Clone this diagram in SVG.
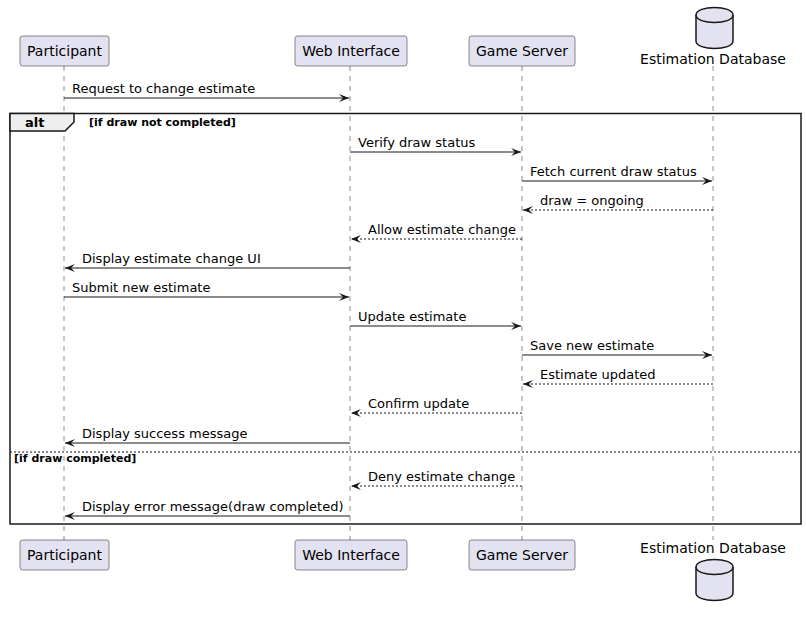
<svg xmlns="http://www.w3.org/2000/svg" width="806" height="618" viewBox="0 0 806 618">
<defs>
<style>
.p{fill:#E2E2F0;stroke:#181818;stroke-width:0.5}
.pt{font-family:"DejaVu Sans",sans-serif;font-size:14px;fill:#000;text-anchor:middle}
.ll{stroke:#181818;stroke-width:0.5;stroke-dasharray:5,5}
.m{stroke:#181818;stroke-width:1;fill:none}
.d{stroke-dasharray:2,2}
.mt{font-family:"DejaVu Sans",sans-serif;font-size:13px;fill:#000}
.g{font-family:"DejaVu Sans",sans-serif;font-size:11px;font-weight:bold;fill:#000}
</style>
<marker id="ah" viewBox="0 0 10 8" refX="10" refY="4" markerWidth="10" markerHeight="8" markerUnits="userSpaceOnUse" orient="auto">
<polygon points="0,0 10,4 0,8 4,4" fill="#181818"/>
</marker>
</defs>
<rect width="806" height="618" fill="#FFFFFF"/>
<g id="lifelines">
<line class="ll" x1="64" y1="66" x2="64" y2="540"/>
<line class="ll" x1="350" y1="66" x2="350" y2="540"/>
<line class="ll" x1="522" y1="66" x2="522" y2="540"/>
<line class="ll" x1="713" y1="66" x2="713" y2="540"/>
</g>
<g id="alt-frame">
<rect x="10" y="113.5" width="791" height="410.5" fill="none" stroke="#181818" stroke-width="1.5"/>
<polygon points="10,113.5 74,113.5 74,122 65,131 10,131" fill="#EEEEEE" stroke="#181818" stroke-width="1.5"/>
<text x="25" y="127" font-family="DejaVu Sans,sans-serif" font-size="13" font-weight="bold">alt</text>
<text class="g" x="89" y="126">[if draw not completed]</text>
<line x1="10" y1="452" x2="801" y2="452" stroke="#181818" stroke-width="1" stroke-dasharray="2,2"/>
<text class="g" x="14" y="462">[if draw completed]</text>
</g>
<g id="participant-top"><rect class="p" x="20" y="36" width="89" height="30" rx="2.5"/><text class="pt" x="64.5" y="56">Participant</text></g>
<g id="web-top"><rect class="p" x="295" y="36" width="112" height="30" rx="2.5"/><text class="pt" x="351" y="56">Web Interface</text></g>
<g id="server-top"><rect class="p" x="469" y="36" width="106" height="30" rx="2.5"/><text class="pt" x="522" y="56">Game Server</text></g>
<g id="db-top">
<path d="M696,15 C696,5 733,5 733,15 L733,41 C733,51 696,51 696,41 Z" fill="#E2E2F0" stroke="#181818" stroke-width="1.5"/>
<path d="M696,15 C696,25 733,25 733,15" fill="none" stroke="#181818" stroke-width="1.5"/>
<text class="pt" x="713" y="64">Estimation Database</text>
</g>
<g id="participant-bottom"><rect class="p" x="20" y="540" width="89" height="30" rx="2.5"/><text class="pt" x="64.5" y="560">Participant</text></g>
<g id="web-bottom"><rect class="p" x="295" y="540" width="112" height="30" rx="2.5"/><text class="pt" x="351" y="560">Web Interface</text></g>
<g id="server-bottom"><rect class="p" x="469" y="540" width="106" height="30" rx="2.5"/><text class="pt" x="522" y="560">Game Server</text></g>
<g id="db-bottom">
<text class="pt" x="713" y="553">Estimation Database</text>
<path d="M696,567 C696,557 733,557 733,567 L733,593 C733,603 696,603 696,593 Z" fill="#E2E2F0" stroke="#181818" stroke-width="1.5"/>
<path d="M696,567 C696,577 733,577 733,567" fill="none" stroke="#181818" stroke-width="1.5"/>
</g>
<g id="connectors">
<line class="m" x1="64" y1="98" x2="349" y2="98" marker-end="url(#ah)"/>
<text class="mt" x="72" y="93">Request to change estimate</text>
<line class="m" x1="350" y1="152" x2="521" y2="152" marker-end="url(#ah)"/>
<text class="mt" x="358" y="147">Verify draw status</text>
<line class="m" x1="522" y1="181" x2="712" y2="181" marker-end="url(#ah)"/>
<text class="mt" x="530" y="176">Fetch current draw status</text>
<line class="m d" x1="713" y1="210" x2="523" y2="210" marker-end="url(#ah)"/>
<text class="mt" x="540" y="205">draw = ongoing</text>
<line class="m d" x1="522" y1="239" x2="351" y2="239" marker-end="url(#ah)"/>
<text class="mt" x="368" y="234">Allow estimate change</text>
<line class="m" x1="350" y1="268" x2="65" y2="268" marker-end="url(#ah)"/>
<text class="mt" x="82" y="263">Display estimate change UI</text>
<line class="m" x1="64" y1="297" x2="349" y2="297" marker-end="url(#ah)"/>
<text class="mt" x="72" y="292">Submit new estimate</text>
<line class="m" x1="350" y1="326" x2="521" y2="326" marker-end="url(#ah)"/>
<text class="mt" x="358" y="321">Update estimate</text>
<line class="m" x1="522" y1="355" x2="712" y2="355" marker-end="url(#ah)"/>
<text class="mt" x="530" y="350">Save new estimate</text>
<line class="m d" x1="713" y1="384" x2="523" y2="384" marker-end="url(#ah)"/>
<text class="mt" x="540" y="379">Estimate updated</text>
<line class="m d" x1="522" y1="413" x2="351" y2="413" marker-end="url(#ah)"/>
<text class="mt" x="368" y="408">Confirm update</text>
<line class="m" x1="350" y1="443" x2="65" y2="443" marker-end="url(#ah)"/>
<text class="mt" x="82" y="438">Display success message</text>
<line class="m d" x1="522" y1="486" x2="351" y2="486" marker-end="url(#ah)"/>
<text class="mt" x="368" y="481">Deny estimate change</text>
<line class="m" x1="350" y1="516" x2="65" y2="516" marker-end="url(#ah)"/>
<text class="mt" x="82" y="511">Display error message(draw completed)</text>
</g>
</svg>
